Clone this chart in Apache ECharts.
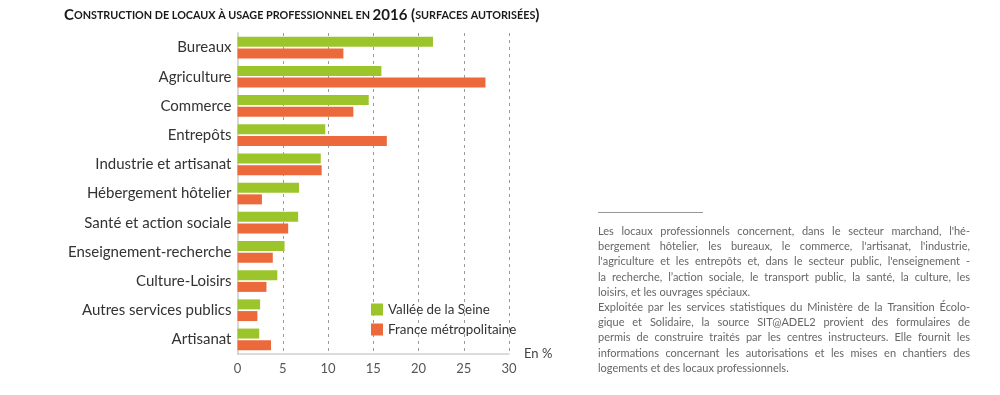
<!DOCTYPE html>
<html>
<head>
<meta charset="utf-8">
<script src="https://cdn.jsdelivr.net/npm/echarts@6/dist/echarts.min.js"></script>
<style>
html,body{margin:0;padding:0;background:#fff;}
#chart{width:1000px;height:395px;}
</style>
</head>
<body>
<div id="chart"></div>
<script>
const titleText = "Construction de locaux à usage professionnel en 2016 (surfaces autorisées)";
const categories = ["Bureaux","Agriculture","Commerce","Entrepôts","Industrie et artisanat","Hébergement hôtelier","Santé et action sociale","Enseignement-recherche","Culture-Loisirs","Autres services publics","Artisanat"];
const valleeSeine = [21.6, 15.9, 14.5, 9.7, 9.2, 6.8, 6.7, 5.2, 4.4, 2.5, 2.4];
const franceMetro = [11.7, 27.4, 12.8, 16.5, 9.3, 2.7, 5.6, 3.9, 3.2, 2.2, 3.7];
const seriesNames = ["Vallée de la Seine", "France métropolitaine"];
const axisName = "En %";
const noteParagraphs = [
  ["Les locaux professionnels concernent, dans le secteur marchand, l'hé-",
   "bergement hôtelier, les bureaux, le commerce, l'artisanat, l'industrie,",
   "l'agriculture et les entrepôts et, dans le secteur public, l'enseignement -",
   "la recherche, l’action sociale, le transport public, la santé, la culture, les",
   "loisirs, et les ouvrages spéciaux."],
  ["Exploitée par les services statistiques du Ministère de la Transition Écolo-",
   "gique et Solidaire, la source SIT@ADEL2 provient des formulaires de",
   "permis de construire traités par les centres instructeurs. Elle fournit les",
   "informations concernant les autorisations et les mises en chantiers des",
   "logements et des locaux professionnels."]
];

const GREEN = '#9cc42b';
const ORANGE = '#ec693b';

// small caps rich text for title
function smallCaps(t) {
  let out = '';
  let cur = null, buf = '';
  for (const ch of t) {
    const isLower = ch !== ch.toUpperCase() && ch === ch.toLowerCase();
    const isSpace = ch === ' ';
    let st = isLower ? 's' : 'b';
    if (isSpace) st = cur || 's';
    if (st !== cur && buf) { out += '{' + cur + '|' + buf + '}'; buf = ''; }
    cur = st;
    buf += isLower ? ch.toUpperCase() : ch;
  }
  if (buf) out += '{' + cur + '|' + buf + '}';
  return out;
}

// justified note text
const noteFont = '11px Lato';
const noteLeft = 598, noteRight = 970, noteTop = 233, noteLH = 15.2;
const cv = document.createElement('canvas').getContext('2d');
cv.font = noteFont;
const noteEls = [];
let lineIdx = 0;
noteParagraphs.forEach(par => {
  par.forEach((line, i) => {
    const y = noteTop + lineIdx * noteLH;
    const last = i === par.length - 1;
    if (last) {
      noteEls.push({type:'text', left: noteLeft, top: y - 7, style:{text: line, font: noteFont, fill:'#666'}});
    } else {
      const words = line.split(' ');
      const widths = words.map(w => cv.measureText(w).width);
      const total = widths.reduce((a,b)=>a+b,0);
      const gap = (noteRight - noteLeft - total) / (words.length - 1);
      let x = noteLeft;
      words.forEach((w, k) => {
        noteEls.push({type:'text', x: x, y: y - 7, style:{text: w, font: noteFont, fill:'#666'}});
        x += widths[k] + gap;
      });
    }
    lineIdx++;
  });
});

const chart = echarts.init(document.getElementById('chart'));
chart.setOption({
  animation: false,
  title: {
    text: smallCaps(titleText),
    left: 59, top: 3,
    textStyle: {
      rich: {
        b: {fontFamily: 'Lato', fontWeight: 'bold', fontSize: 15, color: '#1a1a1a'},
        s: {fontFamily: 'Lato', fontWeight: 'bold', fontSize: 10.8, color: '#1a1a1a'}
      }
    }
  },
  legend: {
    orient: 'vertical', left: 366, top: 298,
    icon: 'rect', itemWidth: 12, itemHeight: 12, itemGap: 7,
    textStyle: {fontFamily: 'Lato', fontSize: 13.4, color: '#333'},
    data: seriesNames
  },
  grid: {left: 237.5, right: 491, top: 33, bottom: 41},
  xAxis: {
    type: 'value', min: 0, max: 30, interval: 5,
    name: axisName, nameLocation: 'end', nameGap: 15,
    nameTextStyle: {fontFamily: 'Lato', fontSize: 13, color: '#444', verticalAlign: 'middle'},
    axisLine: {show: true, lineStyle: {color: '#d0d0d0', width: 1.5}},
    axisTick: {show: false},
    axisLabel: {fontFamily: 'Lato', fontSize: 13, color: '#555', margin: 8},
    splitLine: {show: true, lineStyle: {color: '#9a9a9a', type: [3, 4], width: 1}}
  },
  yAxis: {
    type: 'category', data: categories, inverse: true,
    axisLine: {show: true, lineStyle: {color: '#d8d8d8', width: 2}},
    axisTick: {show: false},
    axisLabel: {fontFamily: 'Lato', fontSize: 15, color: '#333', margin: 6, padding: [0, 0, 8, 0]}
  },
  series: [
    {name: seriesNames[0], type: 'bar', data: valleeSeine, barWidth: 10, barGap: '17%',
     itemStyle: {color: GREEN}},
    {name: seriesNames[1], type: 'bar', data: franceMetro, barWidth: 10, barGap: '17%',
     itemStyle: {color: ORANGE}}
  ],
  graphic: [
    {type: 'line', shape: {x1: 598, y1: 212.5, x2: 703, y2: 212.5}, style: {stroke: '#999', lineWidth: 1}}
  ].concat(noteEls)
});
</script>
</body>
</html>
